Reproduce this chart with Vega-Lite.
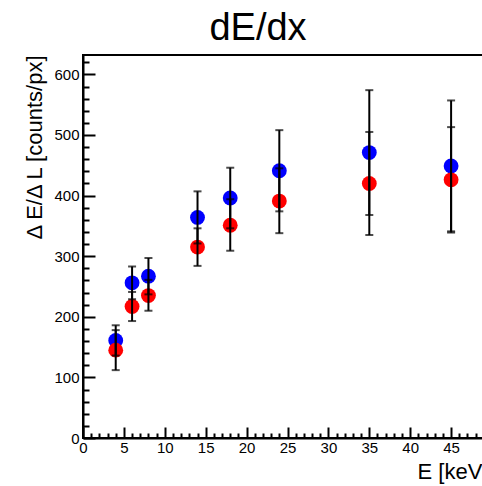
{
  "$schema": "https://vega.github.io/schema/vega-lite/v6.json",
  "autosize": "none",
  "padding": {"left": 83, "top": 55, "right": -10, "bottom": 48},
  "width": 409,
  "height": 383,
  "background": "white",
  "title": {"text": "dE/dx", "fontSize": 38, "font": "Liberation Sans", "fontWeight": "normal", "color": "black", "anchor": "middle", "dx": -29.5, "offset": 7},
  "config": {
    "font": "Liberation Sans",
    "view": {"stroke": "black", "strokeWidth": 2},
    "axis": {"grid": false, "domainColor": "black", "domainWidth": 2, "tickColor": "black", "tickWidth": 2, "labelColor": "black", "labelFontSize": 15, "labelFont": "Liberation Sans", "titleFont": "Liberation Sans", "titleFontSize": 22, "titleFontWeight": "normal", "titleColor": "black", "labelFlush": false, "labelOverlap": false}
  },
  "data": {"values": [
    {"E": 4, "s": "A", "v": 161, "lo": 136, "hi": 186},
    {"E": 6, "s": "A", "v": 256, "lo": 229, "hi": 283},
    {"E": 8, "s": "A", "v": 267, "lo": 237, "hi": 297},
    {"E": 14, "s": "A", "v": 364, "lo": 321, "hi": 407},
    {"E": 18, "s": "A", "v": 396, "lo": 346, "hi": 446},
    {"E": 24, "s": "A", "v": 441, "lo": 374, "hi": 508},
    {"E": 35, "s": "A", "v": 471, "lo": 368, "hi": 574},
    {"E": 45, "s": "A", "v": 449, "lo": 341, "hi": 557},
    {"E": 4, "s": "B", "v": 145, "lo": 112, "hi": 178},
    {"E": 6, "s": "B", "v": 217, "lo": 193, "hi": 241},
    {"E": 8, "s": "B", "v": 235, "lo": 210, "hi": 261},
    {"E": 14, "s": "B", "v": 315, "lo": 284, "hi": 346},
    {"E": 18, "s": "B", "v": 351, "lo": 309, "hi": 394},
    {"E": 24, "s": "B", "v": 391, "lo": 338, "hi": 445},
    {"E": 35, "s": "B", "v": 420, "lo": 335, "hi": 505},
    {"E": 45, "s": "B", "v": 426, "lo": 339, "hi": 513}
  ]},
  "encoding": {
    "x": {"field": "E", "type": "quantitative", "scale": {"domain": [0, 50], "nice": false, "zero": false},
      "axis": {
        "values": [0,1,2,3,4,5,6,7,8,9,10,11,12,13,14,15,16,17,18,19,20,21,22,23,24,25,26,27,28,29,30,31,32,33,34,35,36,37,38,39,40,41,42,43,44,45,46,47,48,49,50],
        "labelExpr": "datum.value % 5 === 0 ? datum.label : ''",
        "tickSize": {"condition": {"test": "datum.value % 5 === 0", "value": -11}, "value": -5},
        "labelPadding": 13,
        "title": "E [keV]", "titleAlign": "right", "titleX": 405, "titleY": 40, "titleBaseline": "alphabetic"
      }}
  },
  "layer": [
    {
      "mark": {"type": "point", "filled": true, "opacity": 1, "size": 220},
      "encoding": {
        "y": {"field": "v", "type": "quantitative", "scale": {"domain": [0, 632], "nice": false, "zero": false},
          "axis": {
            "values": [0,20,40,60,80,100,120,140,160,180,200,220,240,260,280,300,320,340,360,380,400,420,440,460,480,500,520,540,560,580,600,620],
            "labelExpr": "datum.value % 100 === 0 ? datum.label : ''",
            "tickSize": {"condition": {"test": "datum.value % 100 === 0", "value": -12}, "value": -6},
            "labelPadding": 16,
            "title": "Δ E/Δ L [counts/px]", "titleAngle": -90, "titleAlign": "right", "titleX": -42, "titleY": 0, "titleBaseline": "alphabetic"
          }},
        "color": {"field": "s", "type": "nominal", "scale": {"domain": ["A", "B"], "range": ["#0000ff", "#ff0000"]}, "legend": null}
      }
    },
    {
      "mark": {"type": "rule", "color": "black", "strokeWidth": 2},
      "encoding": {"y": {"field": "lo", "type": "quantitative", "scale": {"domain": [0, 632], "nice": false, "zero": false},
          "axis": {
            "values": [0,20,40,60,80,100,120,140,160,180,200,220,240,260,280,300,320,340,360,380,400,420,440,460,480,500,520,540,560,580,600,620],
            "labelExpr": "datum.value % 100 === 0 ? datum.label : ''",
            "tickSize": {"condition": {"test": "datum.value % 100 === 0", "value": -12}, "value": -6},
            "labelPadding": 16,
            "title": "Δ E/Δ L [counts/px]", "titleAngle": -90, "titleAlign": "right", "titleX": -42, "titleY": 0, "titleBaseline": "alphabetic"
          }}, "y2": {"field": "hi"}}
    },
    {
      "mark": {"type": "tick", "color": "black", "orient": "horizontal", "size": 8, "thickness": 2},
      "encoding": {"y": {"field": "lo", "type": "quantitative", "scale": {"domain": [0, 632], "nice": false, "zero": false},
          "axis": {
            "values": [0,20,40,60,80,100,120,140,160,180,200,220,240,260,280,300,320,340,360,380,400,420,440,460,480,500,520,540,560,580,600,620],
            "labelExpr": "datum.value % 100 === 0 ? datum.label : ''",
            "tickSize": {"condition": {"test": "datum.value % 100 === 0", "value": -12}, "value": -6},
            "labelPadding": 16,
            "title": "Δ E/Δ L [counts/px]", "titleAngle": -90, "titleAlign": "right", "titleX": -42, "titleY": 0, "titleBaseline": "alphabetic"
          }}}
    },
    {
      "mark": {"type": "tick", "color": "black", "orient": "horizontal", "size": 8, "thickness": 2},
      "encoding": {"y": {"field": "hi", "type": "quantitative", "scale": {"domain": [0, 632], "nice": false, "zero": false},
          "axis": {
            "values": [0,20,40,60,80,100,120,140,160,180,200,220,240,260,280,300,320,340,360,380,400,420,440,460,480,500,520,540,560,580,600,620],
            "labelExpr": "datum.value % 100 === 0 ? datum.label : ''",
            "tickSize": {"condition": {"test": "datum.value % 100 === 0", "value": -12}, "value": -6},
            "labelPadding": 16,
            "title": "Δ E/Δ L [counts/px]", "titleAngle": -90, "titleAlign": "right", "titleX": -42, "titleY": 0, "titleBaseline": "alphabetic"
          }}}
    }
  ]
}
